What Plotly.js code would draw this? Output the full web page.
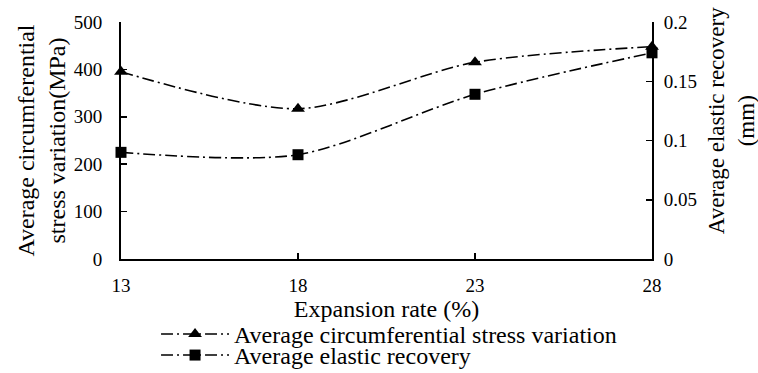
<!DOCTYPE html>
<html>
<head>
<meta charset="utf-8">
<script src="https://cdn.plot.ly/plotly-3.0.1.min.js"></script>
<style>html,body{margin:0;padding:0;background:#fff;}#chart{width:758px;height:373px;}</style>
</head>
<body>
<div id="chart"></div>
<script>
var expansionRate = [13, 18, 23, 28];
var stressVariation = [395, 317, 415, 448];
var elasticRecovery = [0.090, 0.088, 0.139, 0.174];
var xTicks = [13, 18, 23, 28];
var y2Ticks = [0, 0.05, 0.1, 0.15, 0.2];
var y2TickText = ['0', '0.05', '0.1', '0.15', '0.2'];
var seriesNames = ['Average circumferential stress variation', 'Average elastic recovery'];

var FONT = 'Liberation Serif, Times New Roman, serif';
var dash = '12px,4px,2px,4px';

var traces = [
  {
    x: expansionRate, y: stressVariation, name: seriesNames[0], type: 'scatter', mode: 'lines+markers',
    line: {color: '#000', width: 1.6, dash: dash, shape: 'spline', smoothing: 0.8},
    marker: {symbol: 'triangle-up', size: 12, color: '#000'},
    cliponaxis: false, yaxis: 'y', legend: 'legend'
  },
  {
    x: expansionRate, y: elasticRecovery, name: seriesNames[1], type: 'scatter', mode: 'lines+markers',
    line: {color: '#000', width: 1.6, dash: dash, shape: 'spline', smoothing: 0.8},
    marker: {symbol: 'square', size: 11, color: '#000'},
    cliponaxis: false, yaxis: 'y2', legend: 'legend2'
  }
];

function legendAt(y) {
  return {
    orientation: 'v', x: 0.066, xanchor: 'left', y: y, yanchor: 'middle',
    font: {family: FONT, size: 24, color: '#000'},
    itemwidth: 68, bgcolor: 'rgba(0,0,0,0)', borderwidth: 0
  };
}

var axisCommon = {
  showgrid: false, zeroline: false, showline: true, linecolor: '#000', linewidth: 2,
  ticks: 'inside', ticklen: 6, tickwidth: 1.5, tickcolor: '#000',
  tickfont: {family: FONT, size: 19, color: '#000'}
};

var layout = {
  width: 758, height: 373,
  margin: {l: 121, r: 106, t: 22, b: 114, pad: 0, autoexpand: false},
  paper_bgcolor: '#fff', plot_bgcolor: '#fff',
  font: {family: FONT, size: 19, color: '#000'},
  showlegend: true,
  legend: legendAt(-0.318),
  legend2: legendAt(-0.407),
  xaxis: Object.assign({}, axisCommon, {
    range: [13, 28], tickvals: xTicks, ticktext: xTicks.map(String),
    ticklabelstandoff: 8,
    title: {text: 'Expansion rate (%)', font: {family: FONT, size: 24}, standoff: 4}
  }),
  yaxis: Object.assign({}, axisCommon, {
    range: [0, 500], dtick: 100, ticklabelstandoff: 13,
    title: {text: 'Average circumferential<br>stress variation(MPa)', font: {family: FONT, size: 24}, standoff: 1}
  }),
  yaxis2: Object.assign({}, axisCommon, {
    range: [0, 0.2], tickvals: y2Ticks, ticktext: y2TickText,
    overlaying: 'y', side: 'right', ticklabelstandoff: 6
  }),
  annotations: [{
    text: 'Average elastic recovery<br>(mm)', textangle: -90,
    xref: 'paper', yref: 'paper', x: 1.149, y: 0.582, xanchor: 'center', yanchor: 'middle',
    showarrow: false, font: {family: FONT, size: 23, color: '#000'}
  }]
};

Plotly.newPlot('chart', traces, layout, {displayModeBar: false, staticPlot: true});
</script>
</body>
</html>
